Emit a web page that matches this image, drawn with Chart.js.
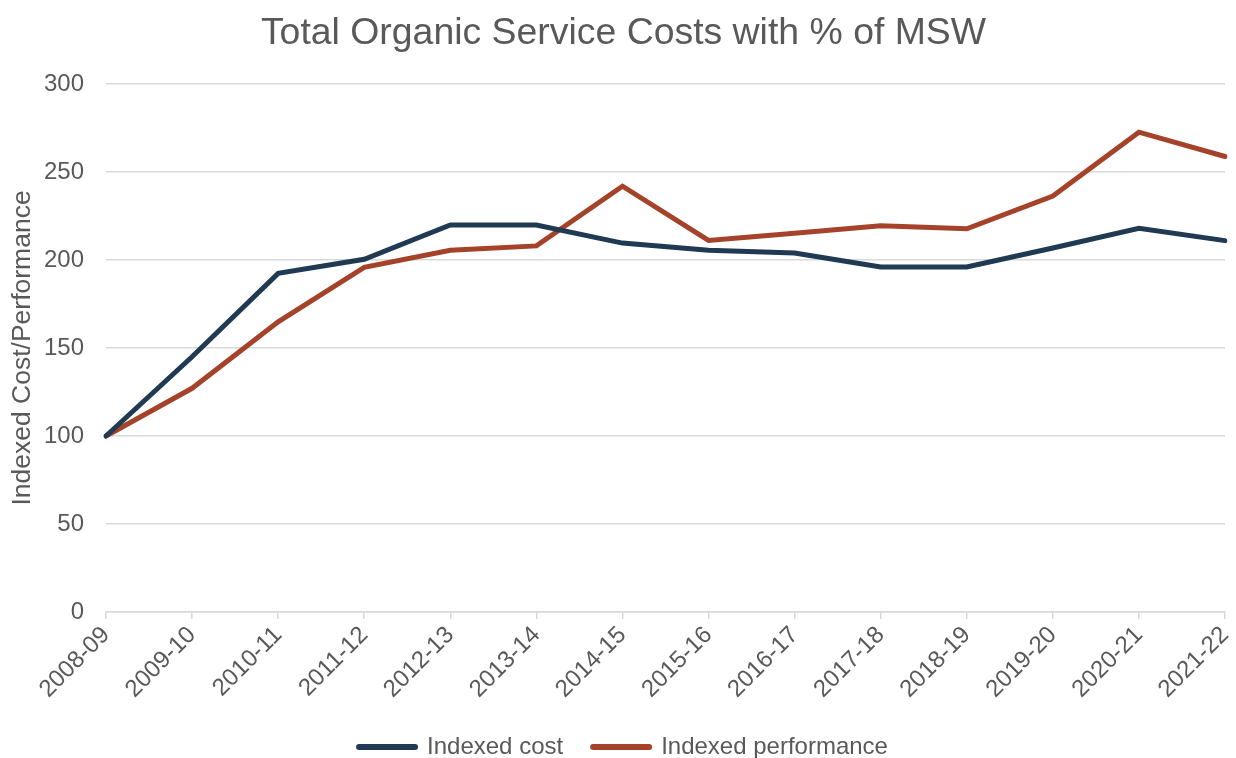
<!DOCTYPE html>
<html>
<head>
<meta charset="utf-8">
<script src="https://cdn.jsdelivr.net/npm/chart.js@4"></script>
<style>
html,body{margin:0;padding:0;background:#fff;}
#wrap{width:1236px;height:758px;position:relative;}
</style>
</head>
<body>
<div id="wrap"><canvas id="c" width="1236" height="758"></canvas></div>
<script>
const categories = ["2008-09","2009-10","2010-11","2011-12","2012-13","2013-14","2014-15","2015-16","2016-17","2017-18","2018-19","2019-20","2020-21","2021-22"];
const indexedCost = [100,145,192.4,200.4,219.9,219.9,209.6,205.5,204,196,196,206.8,218,211];
const indexedPerformance = [100,127.1,164.9,195.8,205.5,208,241.9,211.1,215.2,219.5,217.7,236.3,272.6,258.8];
const yTicks = [0,50,100,150,200,250,300];

const grey = '#595959';
const gridCol = '#d9d9d9';
const font = 'Liberation Sans, Arial, sans-serif';

new Chart(document.getElementById('c'), {
  type: 'line',
  data: {
    labels: categories,
    datasets: [
      {label: 'Indexed cost', data: indexedCost, borderColor: '#1f3a52', backgroundColor: '#1f3a52', borderWidth: 5, pointRadius: 0, tension: 0, borderCapStyle: 'round', borderJoinStyle: 'miter'},
      {label: 'Indexed performance', data: indexedPerformance, borderColor: '#a5432a', backgroundColor: '#a5432a', borderWidth: 5, pointRadius: 0, tension: 0, borderCapStyle: 'round', borderJoinStyle: 'miter'}
    ]
  },
  options: {
    responsive: false,
    animation: false,
    layout: {padding: {left: 11, right: 0, top: 0, bottom: 0}},
    plugins: {
      title: {display: true, text: 'Total Organic Service Costs with % of MSW', color: grey, font: {family: font, size: 37.4, weight: 'normal'}, padding: {top: 11, bottom: 28.1}},
      legend: {
        position: 'bottom', maxHeight: 53,
        labels: {
          color: grey, font: {family: font, size: 24}, usePointStyle: true, pointStyle: 'line', pointStyleWidth: 56, padding: 30,
          generateLabels: (chart) => Chart.defaults.plugins.legend.labels.generateLabels(chart).map(l => Object.assign(l, {lineWidth: 6, lineCap: 'round', pointStyle: 'line'}))
        }
      },
      tooltip: {enabled: false}
    },
    scales: {
      x: {
        offset: false,
        grid: {drawOnChartArea: false, drawTicks: true, tickLength: 7, color: gridCol, lineWidth: 1.5},
        border: {display: true, color: gridCol, width: 1.5},
        ticks: {color: grey, font: {family: font, size: 24}, minRotation: 45, maxRotation: 45, autoSkip: false, padding: 2},
        afterFit: (s) => { s.height = 93; s.paddingRight = 11; s.paddingLeft = 0; }
      },
      y: {
        min: 0, max: 300,
        afterBuildTicks: (s) => { s.ticks = yTicks.map(v => ({value: v})); },
        grid: {color: gridCol, lineWidth: 1.5, drawTicks: false},
        border: {display: false},
        ticks: {color: grey, font: {family: font, size: 24}, padding: 22},
        title: {display: true, text: 'Indexed Cost/Performance', color: grey, font: {family: font, size: 26.5}, padding: {top: -4, bottom: 0}},
        afterFit: (s) => { s.width = 95; }
      }
    }
  }
});
</script>
</body>
</html>
